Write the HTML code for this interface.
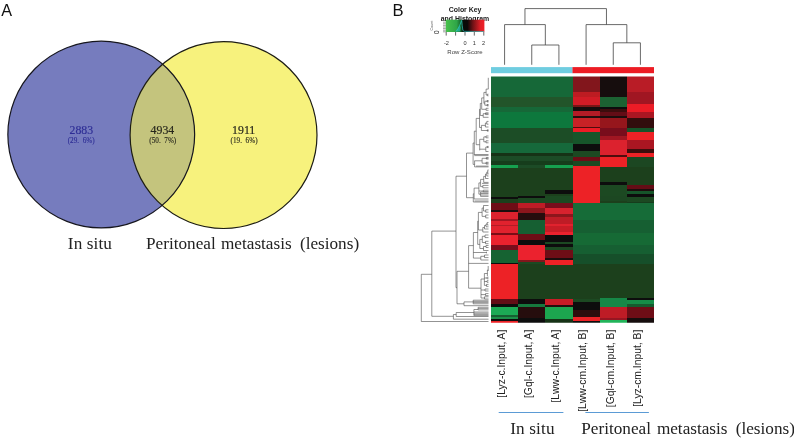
<!DOCTYPE html>
<html>
<head>
<meta charset="utf-8">
<title>Figure</title>
<style>
html,body{margin:0;padding:0;background:#fff;}
body{width:794px;height:438px;overflow:hidden;font-family:"Liberation Sans",sans-serif;}
svg{display:block;will-change:transform;}
.sans{font-family:"Liberation Sans",sans-serif;}
.serif{font-family:"Liberation Serif",serif;}
</style>
</head>
<body>
<svg width="794" height="438" viewBox="0 0 794 438">
<rect x="0" y="0" width="794" height="438" fill="#ffffff"/>

<!-- Panel A: Venn diagram -->
<g class="sans">
<text x="1.2" y="15.9" font-size="16.2" fill="#111">A</text>
</g>
<defs>
<clipPath id="clipBlue"><circle cx="101.25" cy="134.55" r="93.4"/></clipPath>
</defs>
<circle cx="101.25" cy="134.55" r="93.4" fill="#767cbe"/>
<circle cx="223.55" cy="135.05" r="93.45" fill="#f7f27d"/>
<circle cx="223.55" cy="135.05" r="93.45" fill="#c4c47d" clip-path="url(#clipBlue)"/>
<circle cx="101.25" cy="134.55" r="93.4" fill="none" stroke="#16161e" stroke-width="1.2"/>
<circle cx="223.55" cy="135.05" r="93.45" fill="none" stroke="#1c1c14" stroke-width="1.2"/>
<g class="serif" text-anchor="middle">
<text x="81.3" y="133.9" font-size="11.8" fill="#2e2e96" stroke="#2e2e96" stroke-width="0.18">2883</text>
<text x="81.2" y="142.7" font-size="7.2" fill="#2e2e96" stroke="#2e2e96" stroke-width="0.12">(29.&#160;&#160;6%)</text>
<text x="162.4" y="133.9" font-size="11.8" fill="#26261c" stroke="#26261c" stroke-width="0.18">4934</text>
<text x="162.8" y="142.7" font-size="7.2" fill="#26261c" stroke="#26261c" stroke-width="0.12">(50.&#160;&#160;7%)</text>
<text x="243.7" y="133.9" font-size="11.8" fill="#26261c" stroke="#26261c" stroke-width="0.18">1911</text>
<text x="244.1" y="142.7" font-size="7.2" fill="#26261c" stroke="#26261c" stroke-width="0.12">(19.&#160;&#160;6%)</text>
</g>
<g class="serif" font-size="17.2" fill="#222">
<text x="67.8" y="248.6" letter-spacing="0.12">In situ</text>
<text x="146" y="248.6" word-spacing="2.7">Peritoneal <tspan dx="-1.7">metastasis</tspan> <tspan dx="1.3">(lesions)</tspan></text>
</g>

<!-- Panel B -->
<g class="sans">
<text x="392.6" y="16" font-size="16.6" fill="#111">B</text>
</g>

<!-- Color key -->
<defs>
<linearGradient id="keygrad" x1="0" y1="0" x2="1" y2="0">
<stop offset="0" stop-color="#48c24c"/>
<stop offset="0.28" stop-color="#2fa548"/>
<stop offset="0.38" stop-color="#156b2c"/>
<stop offset="0.45" stop-color="#080c08"/>
<stop offset="0.56" stop-color="#0c0808"/>
<stop offset="0.7" stop-color="#6e1216"/>
<stop offset="0.9" stop-color="#e01e26"/>
<stop offset="1" stop-color="#f02028"/>
</linearGradient>
</defs>
<g class="sans">
<text x="465.1" y="12" font-size="6.95" font-weight="bold" fill="#222" text-anchor="middle">Color Key</text>
<text x="465" y="20.5" font-size="6.95" font-weight="bold" fill="#222" text-anchor="middle">and Histogram</text>
<rect x="445.8" y="19.7" width="38.6" height="12.3" fill="url(#keygrad)"/>
<path d="M455.6,31.6 L457.2,29.6 L458.6,27.4 L459.8,25 L460.6,27.5 L460.2,31.6 Z" fill="#25b5a5" opacity="0.75"/>
<path d="M456,31.4 L458,28.6 L459.6,25.6 L461,22 L461.6,20.4 L462.2,25.5 L462.9,30.4 L464.2,31.3 L484,31.5" fill="none" stroke="#2ec4c0" stroke-width="0.7"/>
<path d="M446.2,32 V35.6 M455.6,32 V35.6 M465,32 V35.6 M474.3,32 V35.6 M483.8,32 V35.6" stroke="#222" stroke-width="0.7" fill="none"/>
<path d="M443,22.2 H445.8 M443,23.8 H445.8 M443,25.4 H445.8 M443,27 H445.8 M443,28.6 H445.8 M443,30.2 H445.8 M443,31.8 H445.8" stroke="#444" stroke-width="0.5" fill="none"/>
<g font-size="5.6" fill="#333" text-anchor="middle">
<text x="446.5" y="44.7">-2</text>
<text x="465" y="44.7">0</text>
<text x="474.3" y="44.7">1</text>
<text x="483.6" y="44.7">2</text>
</g>
<text x="465" y="54" font-size="6.05" fill="#444" text-anchor="middle">Row Z-Score</text>
<text transform="translate(433.2,30.6) rotate(-90)" font-size="3.7" fill="#555">Count</text>
<text transform="translate(438.8,33.9) rotate(-90)" font-size="6.4" fill="#222">0</text>
</g>

<!-- Column dendrogram -->
<path d="M531.75,64.8 V45 H558.92 V64.8 M504.58,64.8 V24.6 H545.33 V45 M613.25,64.8 V42.8 H640.42 V64.8 M586.08,64.8 V24.6 H626.83 V42.8 M524.96,24.6 V8.6 H606.46 V24.6" fill="none" stroke="#444" stroke-width="0.8"/>

<!-- Column side colors -->
<rect x="491" y="67.1" width="81.7" height="6.1" fill="#6fcde0"/>
<rect x="572.5" y="67.1" width="81.5" height="6.1" fill="#ed1c24"/>

<!-- Heatmap -->
<defs>
<clipPath id="hmclip"><rect x="491.0" y="76.4" width="163.0" height="246.4"/></clipPath>
<filter id="vblur" x="-5%" y="-5%" width="110%" height="110%"><feGaussianBlur stdDeviation="0.35 0.45"/></filter>
</defs>
<g clip-path="url(#hmclip)"><g filter="url(#vblur)" shape-rendering="crispEdges">
<rect x="491.00" y="73.40" width="27.47" height="23.40" fill="#146837"/>
<rect x="491.00" y="96.50" width="27.47" height="10.80" fill="#21542a"/>
<rect x="491.00" y="107.00" width="27.47" height="4.80" fill="#146837"/>
<rect x="491.00" y="111.50" width="27.47" height="16.30" fill="#10783e"/>
<rect x="491.00" y="127.50" width="27.47" height="15.30" fill="#1e4e26"/>
<rect x="491.00" y="142.50" width="27.47" height="10.80" fill="#12693a"/>
<rect x="491.00" y="153.00" width="27.47" height="2.80" fill="#143219"/>
<rect x="491.00" y="155.50" width="27.47" height="5.80" fill="#1c4b26"/>
<rect x="491.00" y="161.00" width="27.47" height="4.30" fill="#193c1e"/>
<rect x="491.00" y="165.00" width="27.47" height="3.30" fill="#19a050"/>
<rect x="491.00" y="168.00" width="27.47" height="29.30" fill="#1b401e"/>
<rect x="491.00" y="197.00" width="27.47" height="2.00" fill="#0e0a08"/>
<rect x="491.00" y="198.70" width="27.47" height="4.60" fill="#1b401e"/>
<rect x="491.00" y="203.00" width="27.47" height="7.30" fill="#6e0f19"/>
<rect x="491.00" y="210.00" width="27.47" height="2.30" fill="#1a0808"/>
<rect x="491.00" y="212.00" width="27.47" height="6.90" fill="#dc232d"/>
<rect x="491.00" y="218.60" width="27.47" height="2.50" fill="#a01822"/>
<rect x="491.00" y="220.80" width="27.47" height="4.50" fill="#e1232d"/>
<rect x="491.00" y="225.00" width="27.47" height="1.50" fill="#b41c26"/>
<rect x="491.00" y="226.20" width="27.47" height="6.60" fill="#e1232d"/>
<rect x="491.00" y="232.50" width="27.47" height="2.50" fill="#7a1018"/>
<rect x="491.00" y="234.70" width="27.47" height="11.00" fill="#eb232d"/>
<rect x="491.00" y="245.40" width="27.47" height="4.90" fill="#78101a"/>
<rect x="491.00" y="250.00" width="27.47" height="12.90" fill="#166430"/>
<rect x="491.00" y="262.60" width="27.47" height="1.70" fill="#0e0a08"/>
<rect x="491.00" y="264.00" width="27.47" height="35.70" fill="#ed2028"/>
<rect x="491.00" y="299.40" width="27.47" height="5.20" fill="#640c14"/>
<rect x="491.00" y="304.30" width="27.47" height="2.50" fill="#0e0a08"/>
<rect x="491.00" y="306.50" width="27.47" height="8.80" fill="#1eaa55"/>
<rect x="491.00" y="315.00" width="27.47" height="1.80" fill="#146030"/>
<rect x="491.00" y="316.50" width="27.47" height="3.10" fill="#1a9048"/>
<rect x="491.00" y="319.30" width="27.47" height="1.80" fill="#0e0a08"/>
<rect x="491.00" y="320.80" width="27.47" height="5.30" fill="#ed2028"/>
<rect x="518.17" y="73.40" width="27.47" height="23.40" fill="#146837"/>
<rect x="518.17" y="96.50" width="27.47" height="10.80" fill="#21542a"/>
<rect x="518.17" y="107.00" width="27.47" height="4.80" fill="#146837"/>
<rect x="518.17" y="111.50" width="27.47" height="16.30" fill="#10783e"/>
<rect x="518.17" y="127.50" width="27.47" height="15.30" fill="#1e4e26"/>
<rect x="518.17" y="142.50" width="27.47" height="10.80" fill="#12693a"/>
<rect x="518.17" y="153.00" width="27.47" height="2.80" fill="#143219"/>
<rect x="518.17" y="155.50" width="27.47" height="5.80" fill="#1c4b26"/>
<rect x="518.17" y="161.00" width="27.47" height="4.30" fill="#193c1e"/>
<rect x="518.17" y="165.00" width="27.47" height="3.30" fill="#1c4b26"/>
<rect x="518.17" y="168.00" width="27.47" height="28.30" fill="#1b401e"/>
<rect x="518.17" y="196.00" width="27.47" height="2.30" fill="#0e0a08"/>
<rect x="518.17" y="198.00" width="27.47" height="5.30" fill="#1b4a22"/>
<rect x="518.17" y="203.00" width="27.47" height="5.30" fill="#be1e28"/>
<rect x="518.17" y="208.00" width="27.47" height="5.60" fill="#8c141e"/>
<rect x="518.17" y="213.30" width="27.47" height="6.70" fill="#28080a"/>
<rect x="518.17" y="219.70" width="27.47" height="14.20" fill="#165f30"/>
<rect x="518.17" y="233.60" width="27.47" height="6.70" fill="#6e0f19"/>
<rect x="518.17" y="240.00" width="27.47" height="5.70" fill="#0e0a08"/>
<rect x="518.17" y="245.40" width="27.47" height="14.90" fill="#eb232d"/>
<rect x="518.17" y="260.00" width="27.47" height="2.50" fill="#82141c"/>
<rect x="518.17" y="262.20" width="27.47" height="2.10" fill="#1b4a22"/>
<rect x="518.17" y="264.00" width="27.47" height="35.70" fill="#1b401e"/>
<rect x="518.17" y="299.40" width="27.47" height="5.20" fill="#0e0a08"/>
<rect x="518.17" y="304.30" width="27.47" height="2.50" fill="#19783c"/>
<rect x="518.17" y="306.50" width="27.47" height="11.80" fill="#280a0c"/>
<rect x="518.17" y="318.00" width="27.47" height="8.10" fill="#0e0a08"/>
<rect x="545.33" y="73.40" width="27.47" height="23.40" fill="#146837"/>
<rect x="545.33" y="96.50" width="27.47" height="10.80" fill="#21542a"/>
<rect x="545.33" y="107.00" width="27.47" height="4.80" fill="#146837"/>
<rect x="545.33" y="111.50" width="27.47" height="16.30" fill="#10783e"/>
<rect x="545.33" y="127.50" width="27.47" height="15.30" fill="#1e4e26"/>
<rect x="545.33" y="142.50" width="27.47" height="10.80" fill="#12693a"/>
<rect x="545.33" y="153.00" width="27.47" height="2.80" fill="#143219"/>
<rect x="545.33" y="155.50" width="27.47" height="5.80" fill="#1c4b26"/>
<rect x="545.33" y="161.00" width="27.47" height="4.30" fill="#193c1e"/>
<rect x="545.33" y="165.00" width="27.47" height="3.30" fill="#19a050"/>
<rect x="545.33" y="168.00" width="27.47" height="21.80" fill="#1b401e"/>
<rect x="545.33" y="189.50" width="27.47" height="4.80" fill="#0e0a08"/>
<rect x="545.33" y="194.00" width="27.47" height="1.80" fill="#1b401e"/>
<rect x="545.33" y="195.50" width="27.47" height="7.80" fill="#1b4a22"/>
<rect x="545.33" y="203.00" width="27.47" height="5.30" fill="#78101a"/>
<rect x="545.33" y="208.00" width="27.47" height="6.60" fill="#d7232d"/>
<rect x="545.33" y="214.30" width="27.47" height="2.50" fill="#8c141e"/>
<rect x="545.33" y="216.50" width="27.47" height="7.80" fill="#be1e28"/>
<rect x="545.33" y="224.00" width="27.47" height="2.30" fill="#e1232d"/>
<rect x="545.33" y="226.00" width="27.47" height="5.80" fill="#c81e28"/>
<rect x="545.33" y="231.50" width="27.47" height="3.50" fill="#eb232d"/>
<rect x="545.33" y="234.70" width="27.47" height="7.60" fill="#0f0a08"/>
<rect x="545.33" y="242.00" width="27.47" height="2.60" fill="#1b4a22"/>
<rect x="545.33" y="244.30" width="27.47" height="2.50" fill="#0e0a08"/>
<rect x="545.33" y="246.50" width="27.47" height="3.80" fill="#1b4a22"/>
<rect x="545.33" y="250.00" width="27.47" height="8.30" fill="#6e0f14"/>
<rect x="545.33" y="258.00" width="27.47" height="2.30" fill="#1a0808"/>
<rect x="545.33" y="260.00" width="27.47" height="5.00" fill="#ed2028"/>
<rect x="545.33" y="264.70" width="27.47" height="35.00" fill="#1b401e"/>
<rect x="545.33" y="299.40" width="27.47" height="5.90" fill="#c81e28"/>
<rect x="545.33" y="305.00" width="27.47" height="1.80" fill="#280a0c"/>
<rect x="545.33" y="306.50" width="27.47" height="13.10" fill="#1ea550"/>
<rect x="545.33" y="319.30" width="27.47" height="6.80" fill="#143219"/>
<rect x="572.50" y="73.40" width="27.47" height="18.90" fill="#82141c"/>
<rect x="572.50" y="92.00" width="27.47" height="5.30" fill="#be1e23"/>
<rect x="572.50" y="97.00" width="27.47" height="8.30" fill="#d21e28"/>
<rect x="572.50" y="105.00" width="27.47" height="2.30" fill="#7a1218"/>
<rect x="572.50" y="107.00" width="27.47" height="4.50" fill="#140808"/>
<rect x="572.50" y="111.20" width="27.47" height="5.10" fill="#b41e28"/>
<rect x="572.50" y="116.00" width="27.47" height="2.30" fill="#280a0c"/>
<rect x="572.50" y="118.00" width="27.47" height="8.80" fill="#c82328"/>
<rect x="572.50" y="126.50" width="27.47" height="1.30" fill="#500a10"/>
<rect x="572.50" y="127.50" width="27.47" height="4.80" fill="#eb1e28"/>
<rect x="572.50" y="132.00" width="27.47" height="11.80" fill="#19552a"/>
<rect x="572.50" y="143.50" width="27.47" height="7.80" fill="#0a0a08"/>
<rect x="572.50" y="151.00" width="27.47" height="5.80" fill="#1b4a22"/>
<rect x="572.50" y="156.50" width="27.47" height="4.80" fill="#6e0f14"/>
<rect x="572.50" y="161.00" width="27.47" height="5.30" fill="#1b4a22"/>
<rect x="572.50" y="166.00" width="27.47" height="37.30" fill="#ed2028"/>
<rect x="572.50" y="203.00" width="27.47" height="17.00" fill="#126c37"/>
<rect x="572.50" y="219.70" width="27.47" height="13.10" fill="#165f30"/>
<rect x="572.50" y="232.50" width="27.47" height="13.20" fill="#136a36"/>
<rect x="572.50" y="245.40" width="27.47" height="8.90" fill="#165f30"/>
<rect x="572.50" y="254.00" width="27.47" height="10.30" fill="#19502a"/>
<rect x="572.50" y="264.00" width="27.47" height="35.70" fill="#1b401e"/>
<rect x="572.50" y="299.40" width="27.47" height="2.90" fill="#1b4a22"/>
<rect x="572.50" y="302.00" width="27.47" height="8.00" fill="#0a0a08"/>
<rect x="572.50" y="309.70" width="27.47" height="7.60" fill="#2d080c"/>
<rect x="572.50" y="317.00" width="27.47" height="4.10" fill="#ed2028"/>
<rect x="572.50" y="320.80" width="27.47" height="5.30" fill="#0e0a08"/>
<rect x="599.67" y="73.40" width="27.47" height="23.40" fill="#190808"/>
<rect x="599.67" y="96.50" width="27.47" height="0.80" fill="#0a0806"/>
<rect x="599.67" y="97.00" width="27.47" height="10.30" fill="#1a6230"/>
<rect x="599.67" y="107.00" width="27.47" height="1.80" fill="#0e0a08"/>
<rect x="599.67" y="108.50" width="27.47" height="3.30" fill="#3c0a0e"/>
<rect x="599.67" y="111.50" width="27.47" height="4.80" fill="#640f14"/>
<rect x="599.67" y="116.00" width="27.47" height="2.30" fill="#1a0808"/>
<rect x="599.67" y="118.00" width="27.47" height="9.80" fill="#96141e"/>
<rect x="599.67" y="127.50" width="27.47" height="8.80" fill="#78101a"/>
<rect x="599.67" y="136.00" width="27.47" height="3.80" fill="#a01822"/>
<rect x="599.67" y="139.50" width="27.47" height="15.30" fill="#dc232d"/>
<rect x="599.67" y="154.50" width="27.47" height="2.30" fill="#500a10"/>
<rect x="599.67" y="156.50" width="27.47" height="10.80" fill="#ed2028"/>
<rect x="599.67" y="167.00" width="27.47" height="15.30" fill="#1b401e"/>
<rect x="599.67" y="182.00" width="27.47" height="2.80" fill="#0a0a08"/>
<rect x="599.67" y="184.50" width="27.47" height="11.80" fill="#1b4a22"/>
<rect x="599.67" y="196.00" width="27.47" height="4.80" fill="#1b4623"/>
<rect x="599.67" y="200.50" width="27.47" height="2.80" fill="#1b401e"/>
<rect x="599.67" y="203.00" width="27.47" height="17.00" fill="#126c37"/>
<rect x="599.67" y="219.70" width="27.47" height="13.10" fill="#165f30"/>
<rect x="599.67" y="232.50" width="27.47" height="13.20" fill="#136a36"/>
<rect x="599.67" y="245.40" width="27.47" height="8.90" fill="#165f30"/>
<rect x="599.67" y="254.00" width="27.47" height="10.30" fill="#19502a"/>
<rect x="599.67" y="264.00" width="27.47" height="34.30" fill="#1b401e"/>
<rect x="599.67" y="298.00" width="27.47" height="8.80" fill="#198746"/>
<rect x="599.67" y="306.50" width="27.47" height="11.80" fill="#be1e28"/>
<rect x="599.67" y="318.00" width="27.47" height="2.70" fill="#961822"/>
<rect x="599.67" y="320.40" width="27.47" height="5.70" fill="#23b45a"/>
<rect x="626.83" y="73.40" width="27.47" height="18.90" fill="#b91e28"/>
<rect x="626.83" y="92.00" width="27.47" height="12.30" fill="#a01923"/>
<rect x="626.83" y="104.00" width="27.47" height="7.80" fill="#eb1e28"/>
<rect x="626.83" y="111.50" width="27.47" height="6.80" fill="#aa1923"/>
<rect x="626.83" y="118.00" width="27.47" height="9.80" fill="#320a0f"/>
<rect x="626.83" y="127.50" width="27.47" height="4.80" fill="#19552a"/>
<rect x="626.83" y="132.00" width="27.47" height="7.80" fill="#ed2028"/>
<rect x="626.83" y="139.50" width="27.47" height="9.80" fill="#aa1923"/>
<rect x="626.83" y="149.00" width="27.47" height="4.30" fill="#3c0a0f"/>
<rect x="626.83" y="153.00" width="27.47" height="3.80" fill="#ed2028"/>
<rect x="626.83" y="156.50" width="27.47" height="10.80" fill="#1b4623"/>
<rect x="626.83" y="167.00" width="27.47" height="17.80" fill="#1b401e"/>
<rect x="626.83" y="184.50" width="27.47" height="4.30" fill="#640f14"/>
<rect x="626.83" y="188.50" width="27.47" height="2.30" fill="#1a0808"/>
<rect x="626.83" y="190.50" width="27.47" height="3.80" fill="#19552a"/>
<rect x="626.83" y="194.00" width="27.47" height="2.80" fill="#0a0a08"/>
<rect x="626.83" y="196.50" width="27.47" height="5.30" fill="#1b4a22"/>
<rect x="626.83" y="201.50" width="27.47" height="1.80" fill="#193c1e"/>
<rect x="626.83" y="203.00" width="27.47" height="17.00" fill="#126c37"/>
<rect x="626.83" y="219.70" width="27.47" height="13.10" fill="#165f30"/>
<rect x="626.83" y="232.50" width="27.47" height="13.20" fill="#136a36"/>
<rect x="626.83" y="245.40" width="27.47" height="8.90" fill="#165f30"/>
<rect x="626.83" y="254.00" width="27.47" height="10.30" fill="#19502a"/>
<rect x="626.83" y="264.00" width="27.47" height="34.30" fill="#1b401e"/>
<rect x="626.83" y="298.00" width="27.47" height="2.30" fill="#0a0a08"/>
<rect x="626.83" y="300.00" width="27.47" height="4.60" fill="#198c46"/>
<rect x="626.83" y="304.30" width="27.47" height="2.50" fill="#195a2d"/>
<rect x="626.83" y="306.50" width="27.47" height="11.80" fill="#6e0f19"/>
<rect x="626.83" y="318.00" width="27.47" height="8.10" fill="#14100a"/>
</g></g>

<!-- Row dendrogram -->
<path d="M488.3,77.8V89.1 M486.1,89.1H488.3 M486.1,89.1V95.0 M487.4,94.2V95.8 M487.4,94.2H488.5 M487.4,95.8H488.5 M486.1,95.0H487.4 M483.9,92.4H486.1 M483.9,92.4V103.4 M484.8,101.2V105.2 M484.8,101.2H488.5 M484.8,105.2H488.5 M483.9,103.2H484.8 M487.0,100.5V101.9 M487.0,100.5H488.5 M487.0,101.9H488.5 M487.0,104.5V105.9 M487.0,104.5H488.5 M487.0,105.9H488.5 M481.7,97.9H483.9 M481.7,97.9V109.3 M486.1,108.3V110.3 M486.1,108.3H488.5 M486.1,110.3H488.5 M481.7,109.3H486.1 M480.3,103.4H481.7 M480.3,103.4V115.5 M483.2,113.7V117.3 M483.2,113.7H488.5 M483.2,117.3H488.5 M480.3,115.5H483.2 M485.6,112.8V114.6 M485.6,112.8H488.5 M485.6,114.6H488.5 M479.5,109.3H480.3 M479.5,109.3V127.5 M479.5,127.5H481.4 M481.4,125.4V130.5 M481.4,130.5H488.5 M481.4,125.4H485.4 M485.4,123.0V127.0 M485.4,127.0H488.5 M485.4,123.0H486.8 M486.8,121.4V124.2 M486.8,121.4H488.5 M486.8,124.2H488.5 M487.2,129.8V131.2 M487.2,129.8H488.5 M487.2,131.2H488.5 M476.2,118.4H479.5 M476.2,118.4V144.7 M476.2,144.7H479.7 M479.7,139.3V150.4 M479.7,139.3H483.8 M483.8,136.9V141.8 M486.0,136.0V137.8 M486.0,136.0H488.5 M486.0,137.8H488.5 M483.8,136.9H486.0 M486.0,140.8V142.8 M486.0,140.8H488.5 M486.0,142.8H488.5 M483.8,141.8H486.0 M485.8,147.0V151.5 M485.8,147.0H488.5 M485.8,151.5H488.5 M479.7,149.2H485.8 M487.3,146.4V147.6 M487.3,146.4H488.5 M487.3,147.6H488.5 M474.3,131.2H476.2 M474.3,131.2V155.0 M474.3,154.5H488.5 M474.3,155.6H488.5 M473.1,143.0H474.3 M473.1,143.0V164.4 M473.1,164.4H474.6 M474.6,160.7V166.9 M474.6,166.9H488.5 M476.0,166.1H488.5 M482.1,158.3V163.2 M482.1,158.3H488.5 M482.1,163.2H488.5 M474.6,160.8H482.1 M486.3,157.5V159.1 M486.3,157.5H488.5 M486.3,159.1H488.5 M486.0,162.3V164.1 M486.0,162.3H488.5 M486.0,164.1H488.5 M466.5,153.1H473.1 M466.5,153.1V197.7 M466.5,197.7H473.3 M487.8,169.9V174.0 M487.8,169.9H488.5 M487.8,174.0H488.5 M486.8,172.0H487.8 M486.8,172.0V176.0 M486.8,176.0H488.5 M485.5,174.0H486.8 M485.5,174.0V178.5 M485.5,178.5H488.5 M483.7,176.4H485.5 M483.7,176.4V182.4 M483.7,182.4H488.5 M482.0,183.4H488.5 M480.6,179.4H483.7 M480.6,179.4V186.6 M482.8,185.4V187.8 M482.8,185.4H488.5 M482.8,187.8H488.5 M480.6,186.6H482.8 M478.9,182.9H480.6 M478.9,182.9V194.2 M478.9,194.2H480.6 M480.6,192.0V196.4 M480.6,192.0H488.5 M480.6,193.5H488.5 M480.6,195.0H488.5 M480.6,196.4H488.5 M478.9,191.0H483.3 M483.3,190.2V191.8 M483.3,190.2H488.5 M483.3,191.8H488.5 M474.1,188.1H478.9 M474.1,188.1V199.0 M474.1,199.0H488.5 M473.3,193.8H474.1 M473.3,193.8V202.0 M473.3,202.0H488.5 M474.5,201.0H488.5 M456.0,176.2H466.5 M456.0,176.2V287.7 M431.8,231.1H456.0 M456.0,287.7H457.0 M457.0,271.3V303.8 M457.0,271.3H468.6 M457.0,303.8H464.0 M464.0,301.9V305.7 M464.0,301.9H473.2 M473.2,300.2V303.8 M473.2,300.2H488.5 M473.2,301.4H488.5 M473.2,302.6H488.5 M473.2,303.8H488.5 M464.0,305.7H488.5 M468.6,245.6V288.2 M468.6,245.6H473.4 M468.6,288.2H481.0 M468.6,263.4H488.5 M483.5,205.5V211.0 M483.5,205.5H488.5 M483.5,211.0H485.7 M485.7,209.8V212.2 M485.7,209.8H488.5 M485.7,212.2H488.5 M482.1,208.0V216.4 M482.1,208.0H483.5 M482.1,216.4H485.7 M485.7,215.0V217.9 M485.7,215.0H488.5 M485.7,217.9H488.5 M478.4,212.4V230.0 M478.4,212.4H482.1 M478.4,230.0H482.8 M482.8,227.5V232.0 M482.8,227.5H484.5 M484.5,225.5V229.0 M484.5,225.5H486.0 M486.0,224.0V226.8 M486.0,224.0H487.2 M487.2,222.5V225.0 M487.2,222.5H488.5 M487.2,225.0H488.5 M486.0,226.8H488.5 M484.5,229.0H488.5 M482.8,232.0H488.5 M477.7,221.2V244.4 M477.7,221.2H478.4 M477.7,244.4H479.8 M479.8,239.4V248.5 M479.8,239.4H482.3 M482.3,236.3V242.5 M482.3,236.3H485.0 M485.0,235.0V237.6 M485.0,235.0H488.5 M485.0,237.6H488.5 M482.3,242.5H485.5 M485.5,241.3V243.7 M485.5,241.3H488.5 M485.5,243.7H488.5 M479.8,248.5H483.5 M483.5,246.5V250.5 M483.5,246.5H486.0 M486.0,245.5V247.5 M486.0,245.5H488.5 M486.0,247.5H488.5 M483.5,250.5H488.5 M473.4,232.5V258.1 M473.4,232.5H477.7 M473.4,258.1H480.8 M480.8,256.3V260.0 M480.8,256.3H484.5 M484.5,255.0V257.6 M484.5,255.0H488.5 M484.5,257.6H488.5 M480.8,260.0H488.5 M473.4,252.5H486.5 M486.5,251.7V253.3 M488.2,266.0V271.0 M487.4,270.0H488.2 M487.4,270.0V276.0 M484.4,273.5H487.4 M484.4,273.5V285.4 M481.0,279.0H484.4 M481.0,279.0V298.0 M487.0,277.2V278.8 M487.0,277.2H488.5 M487.0,278.8H488.5 M484.4,278.0H487.0 M487.0,280.7V282.3 M487.0,280.7H488.5 M487.0,282.3H488.5 M484.4,281.5H487.0 M486.5,284.4V286.4 M486.5,284.4H488.5 M486.5,286.4H488.5 M484.4,285.4H486.5 M485.0,289.0V291.0 M485.0,289.0H488.5 M485.0,291.0H488.5 M481.0,290.0H485.0 M485.5,293.6V295.6 M485.5,293.6H488.5 M485.5,295.6H488.5 M481.0,294.6H485.5 M481.0,298.0H484.5 M484.5,296.8V299.0 M484.5,296.8H488.5 M484.5,299.0H488.5 M431.8,231.1V316.3 M431.8,316.3H453.4 M453.4,314.5V319.2 M453.4,319.2H488.5 M453.4,314.5H456.2 M456.2,312.5V316.5 M456.2,316.5H488.5 M456.2,312.5H473.9 M473.9,309.5V315.6 M473.9,309.5H478.1 M478.1,307.3V309.9 M478.1,307.3H488.5 M478.1,308.6H488.5 M478.1,309.9H488.5 M473.9,312.0H488.5 M473.9,313.2H488.5 M473.9,314.4H488.5 M473.9,315.6H488.5 M421.3,274.3V321.5 M421.3,274.3H431.8 M421.3,321.5H488.5" fill="none" stroke="#4a4a4a" stroke-width="0.6"/>

<!-- Column labels -->
<g class="sans">
<text transform="translate(504.98,329.6) rotate(-90)" text-anchor="end" font-size="10.35" fill="#222">[Lyz-c.Input, A]</text>
<text transform="translate(532.15,329.6) rotate(-90)" text-anchor="end" font-size="10.35" fill="#222">[Gql-c.Input, A]</text>
<text transform="translate(559.32,329.6) rotate(-90)" text-anchor="end" font-size="10.35" fill="#222">[Lww-c.Input, A]</text>
<text transform="translate(586.48,329.6) rotate(-90)" text-anchor="end" font-size="10.35" fill="#222">[Lww-cm.Input, B]</text>
<text transform="translate(613.65,329.6) rotate(-90)" text-anchor="end" font-size="10.35" fill="#222">[Gql-cm.Input, B]</text>
<text transform="translate(640.82,329.6) rotate(-90)" text-anchor="end" font-size="10.35" fill="#222">[Lyz-cm.Input, B]</text>
</g>
<path d="M498.7,412.5 H563.4 M585.4,412.5 H648.9" stroke="#5b9bd5" stroke-width="1" fill="none"/>
<g class="serif" font-size="17.2" fill="#222">
<text x="510.2" y="434.2" letter-spacing="0.15">In situ</text>
<text x="581.3" y="434.2" word-spacing="2.7">Peritoneal <tspan dx="-1.1">metastasis</tspan> <tspan dx="1.2">(lesions)</tspan></text>
</g>
</svg>
</body>
</html>
